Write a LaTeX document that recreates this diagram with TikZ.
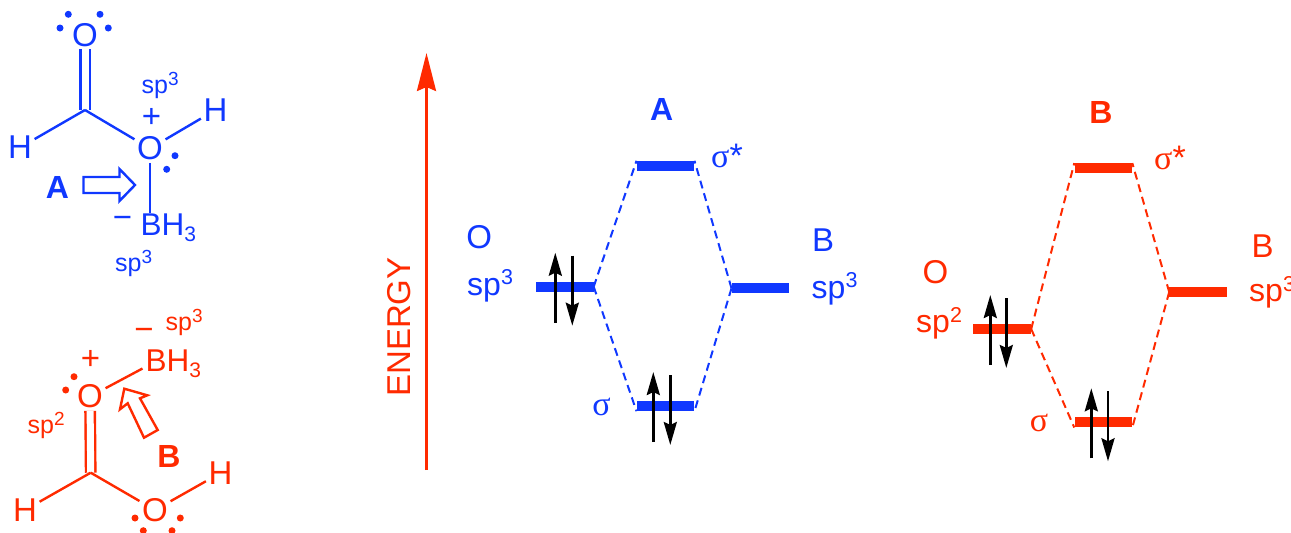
\documentclass[tikz,border=0pt]{standalone}
\usepackage{fontspec}
\setmainfont{Liberation Sans}
\newfontfamily\sigmafont{Liberation Serif}
\usetikzlibrary{arrows.meta, calc}
\definecolor{molblue}{RGB}{16,56,255}
\definecolor{molred}{RGB}{255,42,0}
\newcommand{\smallup}[1]{\raisebox{8pt}{\fontsize{19}{20}\selectfont #1}}
\newcommand{\bigup}[1]{\raisebox{10.5pt}{\fontsize{21.5}{22}\selectfont #1}}
\newcommand{\bigdn}[1]{\raisebox{-6.5pt}{\fontsize{21}{22}\selectfont #1}}

\begin{document}
\begin{tikzpicture}[
  x=1pt, y=-1pt, >=Stealth,
  atom/.style={font=\fontsize{33}{36}\selectfont, inner sep=2.5pt},
  lab/.style={font=\fontsize{33}{36}\selectfont, inner sep=0pt},
  bh/.style={font=\fontsize{31.5}{36}\selectfont, inner sep=0pt, anchor=base west},
  hyb/.style={font=\fontsize{25}{28}\selectfont, inner sep=0pt, anchor=base west},
  hybbig/.style={font=\fontsize{32}{36}\selectfont, inner sep=0pt, anchor=base west},
  tag/.style={font=\fontsize{32}{36}\selectfont\bfseries, inner sep=0pt},
  sig/.style={font=\fontsize{34}{36}\selectfont, inner sep=0pt},
  level/.style={fill, inner sep=0pt, minimum width=57.6pt, minimum height=10pt},
  bond/.style={line width=2.4pt},
  dbond/.style={line width=2.4pt, double, double distance=7pt},
  corr/.style={dash pattern=on 8pt off 5pt, line width=2pt},
  hollow/.style={line width=2.4pt, fill=white, line join=miter},
  spin/.style={->, black, line width=2.7pt, >={Stealth[length=23pt, width=13pt, inset=3pt]}}
]
  \useasboundingbox (0,0) rectangle (1291,533);

  %--- molecule A ---
  \begin{scope}[color=molblue]
    \coordinate (ca) at (85,110);
    \node[atom] (oa1) at (85,35) {O};
    \node[atom] (hal) at (20,147.5) {H};
    \node[atom] (oa2) at (150,148.5) {O};
    \node[atom] (har) at (215.5,110) {H};
    \node[bh] (bha) at (140.5,235) {BH\bigdn{3}};
    \node[lab] (pa) at (151.5,118) {+};
    \node[lab] (ma) at (122.5,222) {−};
    \node[hyb] (spa1) at (141.5,93) {sp\smallup{3}};
    \node[hyb] (spa2) at (115,271.5) {sp\smallup{3}};
    \node[tag] (ta) at (57.5,187) {A};
    \draw[dbond] (oa1) -- (ca);
    \draw[bond] (ca) -- (hal);
    \draw[bond] (ca) -- (oa2);
    \draw[bond] (oa2) -- (har);
    \draw[bond] (oa2) -- (oa2 |- bha.north);
    \foreach \x/\y in {68.3/14.3, 100/14.3, 60/28, 108.3/28, 175/155.7, 166.7/169.3}
      \fill (\x,\y) circle (3.5);
    \draw[hollow] (83.5,177) -- (119.5,177) -- (119.5,169) -- (135,185)
      -- (119.5,201) -- (119.5,193) -- (83.5,193) -- cycle;
  \end{scope}

  %--- molecule B ---
  \begin{scope}[color=molred]
    \coordinate (cb) at (90.7,472.7);
    \node[atom] (ob1) at (90,396.5) {O};
    \node[atom] (hbl) at (25,510) {H};
    \node[atom] (ob2) at (155,510) {O};
    \node[atom] (hbr) at (220.5,473) {H};
    \node[bh] (bhb) at (145.5,371) {BH\bigdn{3}};
    \node[lab] (pb) at (90.5,360) {+};
    \node[lab] (mb) at (144,334) {−};
    \node[hyb] (spb1) at (165.5,330.5) {sp\smallup{3}};
    \node[hyb] (spb2) at (27.5,433.5) {sp\smallup{2}};
    \node[tag] (tb) at (169,456) {B};
    \draw[dbond] (ob1) -- (cb);
    \draw[bond] (cb) -- (hbl);
    \draw[bond] (cb) -- (ob2);
    \draw[bond] (ob2) -- (hbr);
    \draw[bond] (ob1) -- ($(bhb.west)+(-3,5)$);
    \foreach \x/\y in {74/376.7, 65.7/390, 135/518, 180.3/518, 143.3/530.7, 172/530.7}
      \fill (\x,\y) circle (3.5);
    \draw[hollow] (124.3,388.7) -- (147.3,395.3) -- (140,398.3) -- (157.7,430)
      -- (144,437.7) -- (127.7,403.3) -- (120,409.3) -- cycle;
  \end{scope}

  %--- energy axis ---
  \coordinate (ebot) at (426.5,470);
  \coordinate (etop) at (426.5,53);
  \draw[->, molred, line width=2.8pt, >={Stealth[length=38pt, width=19pt, inset=4pt]}] (ebot) -- (etop);
  \node[molred, rotate=90, font=\fontsize{33}{36}\selectfont, inner sep=0pt] (elab) at (398.7,327) {ENERGY};

  %--- diagram A ---
  \begin{scope}[color=molblue]
    \node[level] (aster) at (665.5,166) {};
    \node[level] (ao) at (564.7,286.7) {};
    \node[level] (ab) at (760.5,288.3) {};
    \node[level] (as) at (665.5,406) {};
    \node[tag] (tda) at (661.7,109.5) {A};
    \node[lab] (lao) at (479.3,237.5) {O};
    \node[hybbig] (lasp) at (467,295) {sp\bigup{3}};
    \node[lab] (lab) at (823,240) {B};
    \node[hybbig] (lbsp) at (811.5,298) {sp\bigup{3}};
    \node[sig, anchor=base west] (lasst) at (711,167) {{\sigmafont σ}*};
    \node[sig, anchor=base] (las) at (601.5,415) {\sigmafont σ};
    \draw[corr] (ao.east) -- (aster.north west);
    \draw[corr] (ao.east) -- (as.south west);
    \draw[corr] (ab.west) -- (aster.north east);
    \draw[corr] (ab.west) -- (as.south east);
  \end{scope}

  %--- diagram B ---
  \begin{scope}[color=molred]
    \node[level] (bster) at (1103.3,168.3) {};
    \node[level] (bo) at (1002.2,329) {};
    \node[level] (bb) at (1198.2,292) {};
    \node[level] (bs) at (1103.3,422.3) {};
    \node[tag] (tdb) at (1101,112) {B};
    \node[lab] (lbo) at (935.5,272.5) {O};
    \node[hybbig] (lbosp) at (916,332.5) {sp\bigup{2}};
    \node[lab] (lbb) at (1262.5,246) {B};
    \node[hybbig] (lbbsp) at (1249,301.5) {sp\bigup{3}};
    \node[sig, anchor=base west] (lbsst) at (1154,169) {{\sigmafont σ}*};
    \node[sig, anchor=base] (lbs) at (1039,431.5) {\sigmafont σ};
    \draw[corr] (bo.east) -- (bster.north west);
    \draw[corr] (bo.east) -- (bs.south west);
    \draw[corr] (bb.west) -- (bster.north east);
    \draw[corr] (bb.west) -- (bs.south east);
  \end{scope}

  %--- electron pairs ---
  \foreach \lev/\du/\dd in {ao/-9.4/7.6, as/-12.2/4.8, bo/-11.9/4.1, bs/-12/4.7} {
    \draw[spin] ($(\lev)+(\du,36)$) -- ($(\lev)+(\du,-34)$);
    \draw[spin] ($(\lev)+(\dd,-31)$) -- ($(\lev)+(\dd,39)$);
  }
\end{tikzpicture}
\end{document}
